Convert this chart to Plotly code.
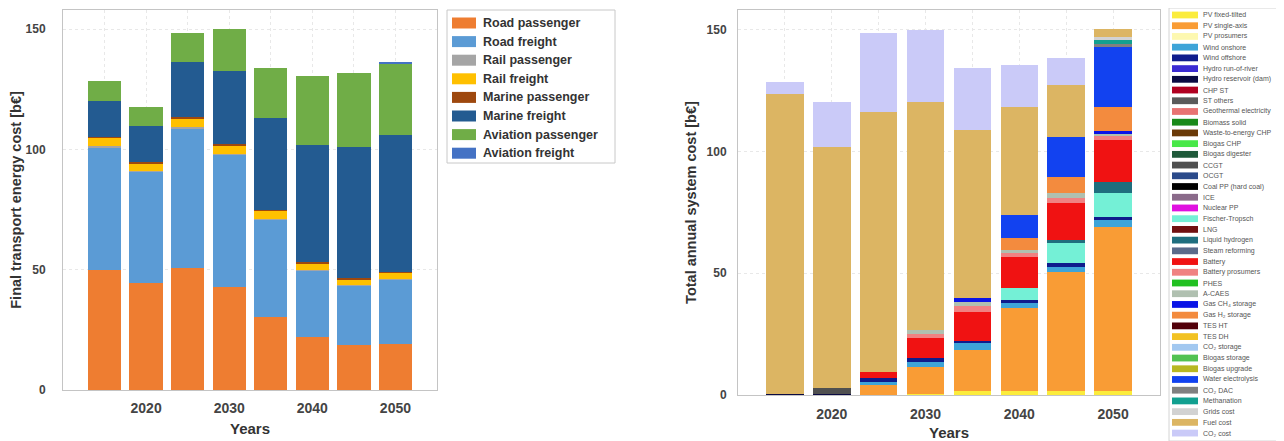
import plotly.graph_objects as go

# The page body has an 8px margin, so the figure is drawn 8px smaller and
# every reference pixel position is shifted by that offset.
OFF = 8
W, H = 1284 - OFF, 441 - OFF

years = [2015, 2020, 2025, 2030, 2035, 2040, 2045, 2050]
x_tick_vals = [2015, 2020, 2025, 2030, 2035, 2040, 2045, 2050]
x_tick_text = ["", "2020", "", "2030", "", "2040", "", "2050"]
y_tick_vals = [0, 50, 100, 150]
y_tick_text = ["0", "50", "100", "150"]

# ---------------- Left chart: final transport energy cost [b€] ----------------
transport_names = ["Road passenger", "Road freight", "Rail passenger", "Rail freight",
                   "Marine passenger", "Marine freight", "Aviation passenger", "Aviation freight"]
transport_colors = ["#ee7d31", "#5b9bd5", "#a5a5a5", "#ffc000",
                    "#9e480e", "#235b91", "#70ad47", "#4472c4"]
road_passenger = [50.0, 44.4, 50.6, 43.0, 30.5, 21.9, 18.7, 19.0]
road_freight = [51.0, 46.4, 58.3, 54.8, 40.2, 27.8, 24.6, 26.8]
rail_passenger = [0.3, 0.3, 0.3, 0.3, 0.3, 0.3, 0.3, 0.3]
rail_freight = [3.5, 3.2, 3.8, 3.6, 3.6, 2.7, 2.4, 2.7]
marine_passenger = [0.4, 0.4, 0.4, 0.4, 0.4, 0.4, 0.4, 0.4]
marine_freight = [15.1, 14.9, 22.8, 30.6, 38.0, 48.8, 54.8, 56.9]
aviation_passenger = [8.3, 8.0, 12.2, 17.5, 20.8, 28.8, 30.8, 29.8]
aviation_freight = [0.0, 0.0, 0.0, 0.0, 0.0, 0.0, 0.0, 0.4]
transport_values = [road_passenger, road_freight, rail_passenger, rail_freight,
                    marine_passenger, marine_freight, aviation_passenger, aviation_freight]

# ---------------- Right chart: total annual system cost [b€] ----------------
pv_fixed_tilted = [0, 0, 0, 0.3, 1.5, 1.5, 1.5, 1.5]
pv_single_axis = [0, 0, 4.1, 11.3, 17.0, 34.1, 49.1, 67.5]
pv_prosumers = [0, 0, 0, 0, 0, 0, 0, 0]
wind_onshore = [0, 0, 1.4, 2.1, 2.7, 2.0, 2.0, 2.8]
wind_offshore = [0, 0, 1.3, 1.3, 1.1, 1.4, 1.4, 1.4]
hydro_run_of_river = [0, 0, 0, 0, 0, 0, 0, 0]
hydro_reservoir = [0.5, 0.5, 0, 0, 0, 0, 0, 0]
chp_st = [0, 0, 0, 0, 0, 0, 0, 0]
st_others = [0, 0, 0, 0, 0, 0, 0, 0]
geothermal = [0, 0, 0, 0, 0, 0, 0, 0]
biomass_solid = [0, 0, 0, 0, 0, 0, 0, 0]
waste_to_energy = [0, 0, 0, 0, 0, 0, 0, 0]
biogas_chp = [0, 0, 0, 0, 0, 0, 0, 0]
biogas_digester = [0, 0, 0, 0, 0, 0, 0, 0]
ccgt = [0, 2.2, 0, 0, 0, 0, 0, 0]
ocgt = [0, 0, 0, 0, 0, 0, 0, 0]
coal_pp = [0, 0, 0, 0, 0, 0, 0, 0]
ice = [0, 0, 0, 0, 0, 0, 0, 0]
nuclear_pp = [0, 0, 0, 0, 0, 0, 0, 0]
fischer_tropsch = [0, 0, 0, 0, 0, 4.8, 8.2, 9.5]
lng = [0, 0, 0, 0, 0, 0, 0, 0]
liquid_hydrogen = [0, 0, 0, 0, 0, 0, 1.4, 4.8]
steam_reforming = [0, 0, 0, 0, 0, 0, 0, 0]
battery = [0, 0, 2.8, 8.2, 11.9, 12.9, 15.0, 17.1]
battery_prosumers = [0, 0, 0, 2.0, 2.5, 1.6, 2.4, 1.6]
phes = [0, 0, 0, 0, 0, 0, 0, 0]
a_caes = [0, 0, 0, 1.4, 1.6, 1.2, 1.7, 1.1]
gas_ch4_storage = [0, 0, 0, 0, 1.4, 0, 0, 1.0]
gas_h2_storage = [0, 0, 0, 0, 0, 4.8, 6.9, 10.0]
tes_ht = [0, 0, 0, 0, 0, 0, 0, 0]
tes_dh = [0, 0, 0, 0, 0, 0, 0, 0]
co2_storage = [0, 0, 0, 0, 0, 0, 0, 0]
biogas_storage = [0, 0, 0, 0, 0, 0, 0, 0]
biogas_upgrade = [0, 0, 0, 0, 0, 0, 0, 0]
water_electrolysis = [0, 0, 0, 0, 0, 9.5, 16.4, 24.6]
co2_dac = [0, 0, 0, 0, 0, 0, 0, 1.2]
methanation = [0, 0, 0, 0, 0, 0, 0, 1.5]
grids_cost = [0, 0, 0, 0, 0, 0, 0, 1.4]
fuel_cost = [123.2, 99.2, 106.6, 93.6, 69.0, 44.5, 21.2, 3.0]
co2_cost = [4.8, 18.4, 32.2, 29.7, 25.3, 17.1, 10.9, 0.0]

system_names = ["PV fixed-tilted", "PV single-axis", "PV prosumers", "Wind onshore",
                "Wind offshore", "Hydro run-of-river", "Hydro reservoir (dam)", "CHP ST",
                "ST others", "Geothermal electricity", "Biomass solid", "Waste-to-energy CHP",
                "Biogas CHP", "Biogas digester", "CCGT", "OCGT", "Coal PP (hard coal)", "ICE",
                "Nuclear PP", "Fischer-Tropsch", "LNG", "Liquid hydrogen", "Steam reforming",
                "Battery", "Battery prosumers", "PHES", "A-CAES", "Gas CH\u2084 storage",
                "Gas H\u2082 storage", "TES HT", "TES DH", "CO\u2082 storage", "Biogas storage",
                "Biogas upgrade", "Water electrolysis", "CO\u2082 DAC", "Methanation",
                "Grids cost", "Fuel cost", "CO\u2082 cost"]
system_colors = ["#fbec3c", "#f99c35", "#fdf8b0", "#3ea4d8",
                 "#0f1c8c", "#3a2ad2", "#0a0a42", "#b00020",
                 "#5a5a5a", "#e87272", "#1a8a1a", "#6a3a08",
                 "#48e848", "#1f5a3a", "#505050", "#2a4a8a", "#000000", "#8a6a8a",
                 "#e010e0", "#74f0d6", "#701010", "#1f6e7e", "#5a6a8a",
                 "#f01212", "#f08282", "#22c022", "#b0c0b0", "#0a14e6",
                 "#f38b3e", "#52000a", "#f2c222", "#a2c8f0", "#52c252",
                 "#b8b822", "#1242f0", "#808080", "#12a090",
                 "#d2d2d2", "#dcb563", "#cacaf8"]
system_values = [pv_fixed_tilted, pv_single_axis, pv_prosumers, wind_onshore,
                 wind_offshore, hydro_run_of_river, hydro_reservoir, chp_st,
                 st_others, geothermal, biomass_solid, waste_to_energy,
                 biogas_chp, biogas_digester, ccgt, ocgt, coal_pp, ice,
                 nuclear_pp, fischer_tropsch, lng, liquid_hydrogen, steam_reforming,
                 battery, battery_prosumers, phes, a_caes, gas_ch4_storage,
                 gas_h2_storage, tes_ht, tes_dh, co2_storage, biogas_storage,
                 biogas_upgrade, water_electrolysis, co2_dac, methanation,
                 grids_cost, fuel_cost, co2_cost]


def px(x):
    return (x - OFF) / W


def py(y):
    return 1 - (y - OFF) / H


fig = go.Figure()

for name, color, vals in zip(transport_names, transport_colors, transport_values):
    fig.add_trace(go.Bar(x=years, y=vals, name=name, width=4,
                         marker=dict(color=color, line=dict(width=0)),
                         xaxis="x", yaxis="y", showlegend=False))

for name, color, vals in zip(system_names, system_colors, system_values):
    fig.add_trace(go.Bar(x=years, y=vals, name=name, width=4,
                         marker=dict(color=color, line=dict(width=0)),
                         xaxis="x2", yaxis="y2", showlegend=False))

FONT = "Liberation Sans, Arial, sans-serif"
axis_line = "#c4c4c4"
grid = "#e8e8e8"


def xaxis_cfg(domain, anchor, standoff, lstandoff):
    return dict(domain=domain, range=[2010, 2055], anchor=anchor, tickmode="array",
                tickvals=x_tick_vals, ticktext=x_tick_text,
                showgrid=True, gridcolor=grid, griddash="dot", gridwidth=1,
                showline=True, linecolor=axis_line, mirror=True, zeroline=False,
                ticks="", ticklabelstandoff=lstandoff,
                tickfont=dict(family=FONT, size=14, color="#444", weight="bold"),
                title=dict(text="Years", standoff=standoff,
                           font=dict(family=FONT, size=15, color="#333", weight="bold")),
                automargin=False, fixedrange=True)


def yaxis_cfg(domain, anchor, standoff, lstandoff, title):
    return dict(domain=domain, range=[0, 158], anchor=anchor, tickmode="array",
                tickvals=y_tick_vals, ticktext=y_tick_text,
                showgrid=True, gridcolor=grid, griddash="dot", gridwidth=1,
                showline=True, linecolor=axis_line, mirror=True, zeroline=False,
                ticks="", ticklabelstandoff=lstandoff,
                tickfont=dict(family=FONT, size=12, color="#444", weight="bold"),
                title=dict(text=title, standoff=standoff,
                           font=dict(family=FONT, size=14.5, color="#333", weight="bold")),
                automargin=False, fixedrange=True)


shapes = []
annotations = []

# Left legend (manual, to match the reference swatches)
shapes.append(dict(type="rect", xref="paper", yref="paper",
                   x0=px(447), x1=px(615), y0=py(163), y1=py(10),
                   line=dict(color="#c8c8c8", width=1), fillcolor="white", layer="below"))
for i, (name, color) in enumerate(zip(transport_names, transport_colors)):
    yc = 23 + i * 18.6
    shapes.append(dict(type="rect", xref="paper", yref="paper",
                       x0=px(452), x1=px(476), y0=py(yc + 5.5), y1=py(yc - 5.5),
                       line=dict(width=0), fillcolor=color))
    annotations.append(dict(xref="paper", yref="paper", x=px(481), y=py(yc),
                            xanchor="left", yanchor="middle", showarrow=False, text=name,
                            font=dict(family=FONT, size=12.5, color="#333", weight="bold")))

# Right legend (manual, 40 compact entries)
shapes.append(dict(type="rect", xref="paper", yref="paper",
                   x0=px(1169), x1=px(1281), y0=py(441), y1=py(8),
                   line=dict(color="#d4d4d4", width=1), fillcolor="white", layer="below"))
for i, (name, color) in enumerate(zip(system_names, system_colors)):
    yc = 15 + i * 10.72
    shapes.append(dict(type="rect", xref="paper", yref="paper",
                       x0=px(1172), x1=px(1198), y0=py(yc + 3.4), y1=py(yc - 3.4),
                       line=dict(width=0), fillcolor=color))
    annotations.append(dict(xref="paper", yref="paper", x=px(1201), y=py(yc),
                            xanchor="left", yanchor="middle", showarrow=False, text=name,
                            font=dict(family=FONT, size=7, color="#555")))

fig.update_layout(
    width=W, height=H,
    margin=dict(l=0, r=0, t=0, b=0),
    paper_bgcolor="white", plot_bgcolor="white",
    barmode="stack", bargap=0,
    showlegend=False,
    xaxis=xaxis_cfg([px(63), px(437)], "y", 8, 5),
    yaxis=yaxis_cfg([py(390), py(10)], "x", 6, 14, "Final transport energy cost [b\u20ac]"),
    xaxis2=xaxis_cfg([px(738), px(1160)], "y2", 9, 6),
    yaxis2=yaxis_cfg([py(395), py(10)], "x2", 6, 8, "Total annual system cost [b\u20ac]"),
    shapes=shapes,
    annotations=annotations,
    font=dict(family=FONT),
)

fig.write_html("out.html")
